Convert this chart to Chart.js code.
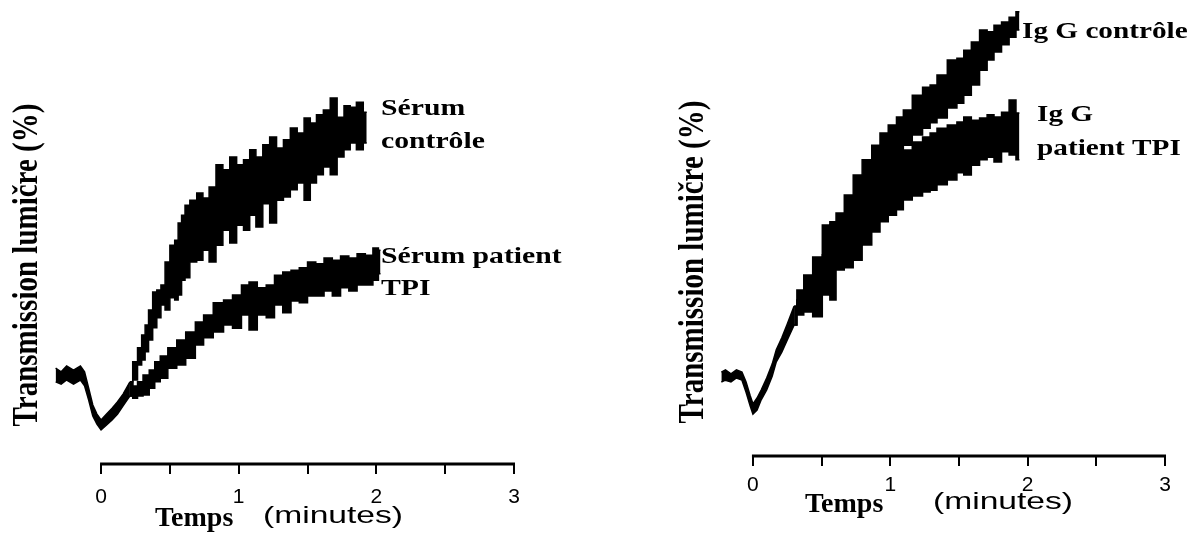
<!DOCTYPE html>
<html lang="fr">
<head>
<meta charset="utf-8">
<title>Transmission lumière</title>
<script src="https://cdn.jsdelivr.net/npm/chart.js@4.4.1/dist/chart.umd.min.js"></script>
<style>
  html, body { margin: 0; padding: 0; background: #fff; }
  #wrap { position: relative; width: 1194px; height: 545px; }
  canvas { position: absolute; top: 0; }
  #gauche { left: 0; }
  #droite { left: 597px; }
</style>
</head>
<body>
<div id="wrap">
  <canvas id="gauche" width="597" height="545"></canvas>
  <canvas id="droite" width="597" height="545"></canvas>
</div>
<script>
// Valeurs : temps en minutes, transmission en % (échelle relative)
// Chaque tracé bruité est rendu comme une bande : bord haut / bord bas

// Panneau gauche : début commun (avant séparation des deux courbes)
const tempsDebutG = [-0.33, -0.29, -0.25, -0.20, -0.15, -0.12, -0.09, -0.06, -0.03, 0, 0.04, 0.08, 0.12, 0.16, 0.21];
const hautDebutG = [21.1, 20.3, 21.6, 20.7, 21.6, 20.3, 16.7, 13.0, 11.0, 9.7, 11.0, 12.3, 13.7, 15.4, 18.1];
const basDebutG = [18.1, 17.6, 18.5, 17.6, 18.5, 17.2, 14.1, 10.6, 8.8, 7.5, 8.6, 9.7, 11.0, 12.8, 15.0];

// Sérum contrôle
const tempsSerumCtrl = [0.25, 0.28, 0.31, 0.33, 0.36, 0.39, 0.42, 0.45, 0.48, 0.52, 0.55, 0.57, 0.60, 0.62, 0.67, 0.72, 0.76, 0.81, 0.86, 0.91, 0.96, 1.01, 1.06, 1.10, 1.15, 1.20, 1.25, 1.30, 1.35, 1.40, 1.45, 1.50, 1.54, 1.59, 1.64, 1.69, 1.74, 1.79, 1.83, 1.88, 1.93];
const hautSerumCtrl = [22.5, 25.6, 28.4, 30.6, 33.9, 37.9, 38.3, 39.4, 44.5, 48.2, 49.3, 53.1, 54.8, 57.0, 58.1, 59.7, 58.6, 61.0, 65.9, 64.8, 67.6, 65.9, 67.0, 69.2, 67.6, 70.3, 72.0, 69.6, 71.4, 74.0, 72.9, 76.2, 75.1, 76.9, 78.0, 80.6, 76.4, 78.9, 78.6, 79.7, 77.5];
const basSerumCtrl = [18.5, 21.8, 22.9, 24.7, 27.3, 30.0, 32.2, 35.0, 33.9, 36.6, 36.1, 37.2, 40.5, 41.0, 44.5, 44.9, 47.1, 44.5, 48.2, 51.5, 48.7, 52.6, 51.5, 54.8, 52.2, 57.3, 53.1, 58.1, 58.8, 60.4, 61.9, 58.1, 61.9, 63.7, 65.4, 63.7, 67.6, 69.2, 70.7, 69.2, 70.7];

// Sérum patient TPI
const tempsSerumTpi = [0.25, 0.28, 0.33, 0.37, 0.41, 0.45, 0.52, 0.58, 0.65, 0.72, 0.77, 0.86, 0.92, 0.99, 1.05, 1.10, 1.17, 1.23, 1.29, 1.35, 1.41, 1.47, 1.53, 1.59, 1.65, 1.71, 1.77, 1.83, 1.89, 1.95, 2.00, 2.03];
const hautSerumTpi = [17.2, 18.1, 19.6, 20.7, 22.5, 23.8, 25.6, 27.3, 29.1, 31.3, 32.8, 35.5, 36.1, 37.2, 39.4, 40.1, 38.8, 39.4, 41.6, 42.3, 42.7, 43.2, 44.5, 44.1, 45.4, 44.9, 45.8, 45.4, 46.3, 46.0, 47.6, 47.1];
const basSerumTpi = [14.5, 15.0, 15.2, 16.7, 18.1, 18.9, 21.1, 21.8, 23.3, 26.2, 27.8, 29.1, 30.6, 29.9, 32.8, 29.5, 32.8, 32.2, 35.0, 33.3, 35.9, 35.5, 37.0, 37.0, 38.1, 37.0, 38.8, 38.1, 39.4, 39.4, 40.5, 41.9];

// Panneau droit : début commun
const tempsDebutD = [-0.23, -0.20, -0.16, -0.12, -0.08, -0.05, -0.02, 0, 0.03, 0.06, 0.10, 0.14, 0.17, 0.21, 0.25, 0.30];
const hautDebutD = [18.8, 19.3, 18.4, 19.3, 18.8, 16.6, 13.5, 11.7, 13.0, 14.8, 17.5, 20.6, 23.8, 26.5, 29.6, 33.6];
const basDebutD = [16.6, 17.0, 16.6, 17.5, 17.0, 14.3, 11.2, 9.4, 10.3, 12.6, 14.8, 17.9, 21.1, 23.3, 26.0, 29.4];

// Ig G contrôle et Ig G patient TPI (mêmes instants)
const tempsIgG = [0.34, 0.40, 0.47, 0.54, 0.58, 0.63, 0.70, 0.76, 0.83, 0.90, 0.95, 1.02, 1.07, 1.12, 1.20, 1.27, 1.31, 1.37, 1.46, 1.51, 1.56, 1.62, 1.68, 1.73, 1.78, 1.84, 1.89, 1.94];
const hautIgGCtrl = [37.2, 40.6, 44.6, 51.8, 52.5, 54.5, 58.5, 63.0, 66.4, 69.7, 72.4, 74.2, 76.0, 77.6, 80.9, 82.7, 83.2, 85.4, 88.8, 89.2, 91.0, 92.8, 95.5, 95.1, 96.6, 97.3, 98.4, 99.6];
const basIgGCtrl = [33.9, 35.7, 38.3, 43.5, 43.5, 47.3, 49.6, 52.9, 56.3, 59.6, 61.9, 65.2, 67.5, 69.7, 72.0, 73.5, 74.7, 75.8, 78.0, 79.1, 80.9, 83.2, 86.5, 88.8, 90.6, 92.2, 93.9, 95.5];
const hautIgGTpi = [35.0, 37.2, 39.9, 45.1, 45.1, 48.9, 51.1, 54.7, 57.8, 61.2, 64.1, 66.4, 67.5, 68.6, 70.4, 71.5, 72.4, 73.5, 74.2, 74.9, 76.0, 75.3, 75.8, 76.5, 76.0, 77.1, 79.8, 76.9];
const basIgGTpi = [31.6, 32.3, 31.2, 36.1, 35.0, 41.7, 42.2, 43.9, 47.3, 50.2, 52.5, 54.0, 55.2, 57.4, 58.3, 59.2, 59.6, 60.8, 61.9, 63.5, 63.0, 65.2, 66.4, 67.0, 65.9, 68.2, 67.5, 66.4];

// Graduations de l'axe du temps
const graduations = [0, 0.5, 1, 1.5, 2, 2.5, 3];

function points(temps, valeurs) {
  return temps.map((t, i) => ({ x: t, y: valeurs[i] }));
}

// la partie bruitée commence au dernier point du début commun
function suite(tDebut, vDebut, temps, valeurs) {
  return points([tDebut[tDebut.length - 1]].concat(temps), [vDebut[vDebut.length - 1]].concat(valeurs));
}

const trait = {
  borderColor: '#000',
  backgroundColor: '#000',
  borderWidth: 1.5,
  pointRadius: 0,
  tension: 0,
  clip: false
};
const bruit = { ...trait, stepped: 'middle' };

// Axe, titres et étiquettes des courbes
const textes = {
  id: 'textes',
  afterDraw(chart, args, opts) {
    const ctx = chart.ctx;
    const x = chart.scales.x;
    const bas = chart.chartArea.bottom;
    ctx.save();
    ctx.strokeStyle = '#000';
    ctx.lineWidth = 3;
    ctx.beginPath();
    ctx.moveTo(x.getPixelForValue(0) - 1, bas);
    ctx.lineTo(x.getPixelForValue(3) + 1, bas);
    ctx.stroke();
    ctx.fillStyle = '#000';
    ctx.textBaseline = 'alphabetic';
    opts.libelles.forEach(l => {
      ctx.save();
      ctx.font = l.police;
      ctx.textAlign = l.align || 'left';
      ctx.translate(l.x, l.y);
      if (l.rot) ctx.rotate(l.rot);
      ctx.scale(l.sx || 1, l.sy || 1);
      ctx.fillText(l.texte, 0, 0);
      ctx.restore();
    });
    ctx.restore();
  }
};

const gras = 'bold 22.5px "Liberation Serif"';
const titreY = 'bold 29px "Liberation Serif"';
const titreTemps = 'bold 28px "Liberation Serif"';

function options(cfg) {
  return {
    responsive: false,
    animation: false,
    layout: { padding: { left: cfg.gauche, right: cfg.droite, top: 10, bottom: 0 } },
    plugins: {
      legend: { display: false },
      tooltip: { enabled: false },
      textes: { libelles: cfg.libelles }
    },
    scales: {
      x: {
        type: 'linear',
        min: -0.4,
        max: 3,
        afterBuildTicks: axe => { axe.ticks = graduations.map(v => ({ value: v })); },
        afterFit: axe => { axe.height = cfg.hautAxe; },
        border: { display: false },
        grid: { drawOnChartArea: false, drawTicks: true, tickLength: 10, color: '#000', lineWidth: 2 },
        ticks: {
          padding: cfg.pad,
          color: '#000',
          autoSkip: false,
          maxRotation: 0,
          font: { family: '"Liberation Sans"', size: 21 },
          callback: v => (Number.isInteger(v) ? String(v) : '')
        }
      },
      y: { display: false, min: 0, max: 100 }
    }
  };
}

new Chart(document.getElementById('gauche'), {
  type: 'line',
  data: {
    datasets: [
      { ...trait, data: points(tempsDebutG, hautDebutG), fill: false },
      { ...trait, data: points(tempsDebutG, basDebutG), fill: '-1' },
      { ...bruit, data: suite(tempsDebutG, hautDebutG, tempsSerumCtrl, hautSerumCtrl), fill: false },
      { ...bruit, data: suite(tempsDebutG, basDebutG, tempsSerumCtrl, basSerumCtrl), fill: '-1' },
      { ...bruit, data: suite(tempsDebutG, hautDebutG, tempsSerumTpi, hautSerumTpi), fill: false },
      { ...bruit, data: suite(tempsDebutG, basDebutG, tempsSerumTpi, basSerumTpi), fill: '-1' }
    ]
  },
  options: options({
    gauche: 46, droite: 83, hautAxe: 81, pad: 11,
    libelles: [
      { texte: 'Transmission lumičre (%)', x: 37, y: 265, rot: -Math.PI / 2, sy: 1.25, police: titreY, align: 'center' },
      { texte: 'Temps', x: 155, y: 526, police: titreTemps },
      { texte: '(minutes)', x: 263, y: 523, sx: 1.4, police: '24px "Liberation Sans"' },
      { texte: 'Sérum', x: 381, y: 115, sx: 1.32, police: gras },
      { texte: 'contrôle', x: 381, y: 148, sx: 1.32, police: gras },
      { texte: 'Sérum patient', x: 381, y: 263, sx: 1.32, police: gras },
      { texte: 'TPI', x: 381, y: 295, sx: 1.32, police: gras }
    ]
  }),
  plugins: [textes]
});

new Chart(document.getElementById('droite'), {
  type: 'line',
  data: {
    datasets: [
      { ...trait, data: points(tempsDebutD, hautDebutD), fill: false },
      { ...trait, data: points(tempsDebutD, basDebutD), fill: '-1' },
      { ...bruit, data: suite(tempsDebutD, hautDebutD, tempsIgG, hautIgGCtrl), fill: false },
      { ...bruit, data: suite(tempsDebutD, basDebutD, tempsIgG, basIgGCtrl), fill: '-1' },
      { ...bruit, data: suite(tempsDebutD, hautDebutD, tempsIgG, hautIgGTpi), fill: false },
      { ...bruit, data: suite(tempsDebutD, basDebutD, tempsIgG, basIgGTpi), fill: '-1' }
    ]
  },
  options: options({
    gauche: 101, droite: 29, hautAxe: 89, pad: 7,
    libelles: [
      { texte: 'Transmission lumičre (%)', x: 106, y: 262, rot: -Math.PI / 2, sy: 1.25, police: titreY, align: 'center' },
      { texte: 'Temps', x: 208, y: 512, police: titreTemps },
      { texte: '(minutes)', x: 336, y: 509, sx: 1.4, police: '24px "Liberation Sans"' },
      { texte: 'Ig G contrôle', x: 425, y: 38, sx: 1.3, police: gras },
      { texte: 'Ig G', x: 440, y: 121, sx: 1.3, police: gras },
      { texte: 'patient TPI', x: 440, y: 155, sx: 1.3, police: gras }
    ]
  }),
  plugins: [textes]
});
</script>
</body>
</html>
